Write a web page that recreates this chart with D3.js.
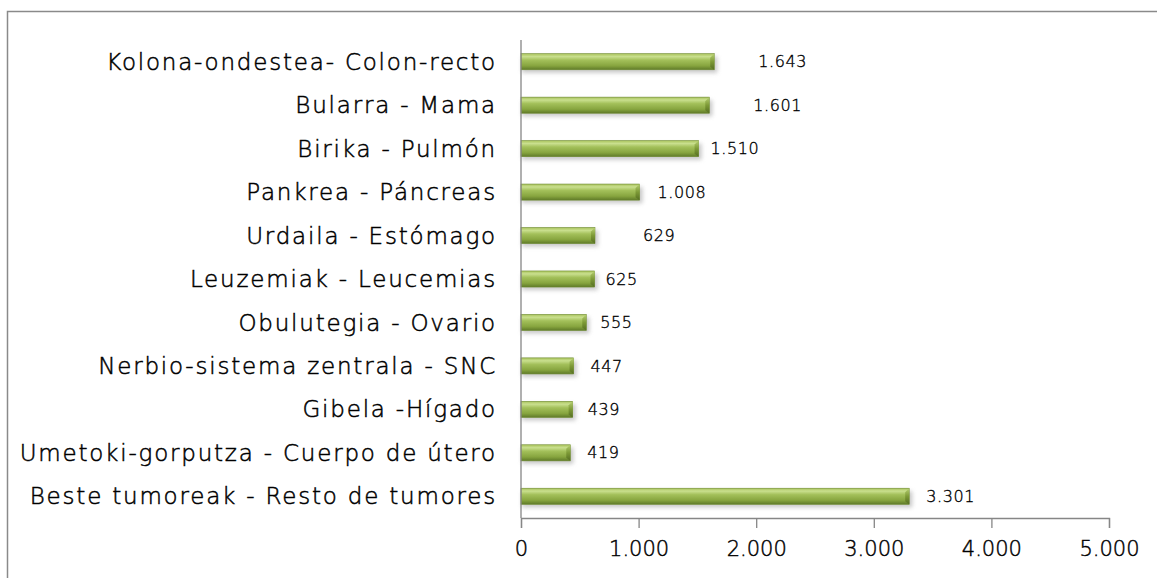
<!DOCTYPE html>
<html>
<head>
<meta charset="utf-8">
<script src="https://cdn.jsdelivr.net/npm/d3@7"></script>
<style>
  html, body { margin: 0; padding: 0; background: #fff; overflow: hidden; }
  svg { display: block; }
  svg text { font-family: "DejaVu Sans", sans-serif; }
</style>
</head>
<body>
<div id="canvas"></div>
<script>
// chart data, top to bottom as in the picture
var categories = [
  'Kolona-ondestea- Colon-recto',
  'Bularra - Mama',
  'Birika - Pulmón',
  'Pankrea - Páncreas',
  'Urdaila - Estómago',
  'Leuzemiak - Leucemias',
  'Obulutegia - Ovario',
  'Nerbio-sistema zentrala - SNC',
  'Gibela -Hígado',
  'Umetoki-gorputza - Cuerpo de útero',
  'Beste tumoreak - Resto de tumores'
];
var values = [1643, 1601, 1510, 1008, 629, 625, 555, 447, 439, 419, 3301];
var xTicks = [0, 1000, 2000, 3000, 4000, 5000];

// layout: gap between bar end and its value label (labels were hand placed)
var labelGap = [44, 44, 12, 18, 48, 11, 14, 17, 15, 17, 17];

var width = 1157, height = 578;
var margin = { left: 521, top: 40, right: 48, bottom: 60 };
var innerWidth = width - margin.left - margin.right;
var innerHeight = height - margin.top - margin.bottom;

var locale = d3.formatLocale({ decimal: ',', thousands: '.', grouping: [3], currency: ['', ''] });
var fmt = locale.format(',d');

var x = d3.scaleLinear().domain([0, 5000]).range([0, innerWidth]);
var y = d3.scaleBand().domain(categories).range([0, innerHeight]).paddingInner(0.63).paddingOuter(0.315);

var svg = d3.select('#canvas').append('svg')
  .attr('width', width)
  .attr('height', height);

// outer chart frame (only top and left edges are inside the picture)
svg.append('path')
  .attr('d', 'M7.5,' + height + 'V11.5H' + width)
  .attr('fill', 'none')
  .attr('stroke', '#8a8a8a')
  .attr('stroke-width', 1.5);

var defs = svg.append('defs');
var grad = defs.append('linearGradient')
  .attr('id', 'barGrad').attr('x1', 0).attr('y1', 0).attr('x2', 0).attr('y2', 1);
grad.append('stop').attr('offset', '0%').attr('stop-color', '#a9c35c');
grad.append('stop').attr('offset', '18%').attr('stop-color', '#c9df8e');
grad.append('stop').attr('offset', '40%').attr('stop-color', '#a3c05a');
grad.append('stop').attr('offset', '75%').attr('stop-color', '#87a53f');
grad.append('stop').attr('offset', '100%').attr('stop-color', '#5f7a28');

var endGrad = defs.append('linearGradient')
  .attr('id', 'endGrad').attr('x1', 0).attr('y1', 0).attr('x2', 0).attr('y2', 1);
endGrad.append('stop').attr('offset', '0%').attr('stop-color', '#b6cf72');
endGrad.append('stop').attr('offset', '50%').attr('stop-color', '#7d9a36');
endGrad.append('stop').attr('offset', '100%').attr('stop-color', '#556d22');

var shadow = defs.append('filter').attr('id', 'shadow')
  .attr('x', '-10%').attr('y', '-50%').attr('width', '120%').attr('height', '250%');
shadow.append('feGaussianBlur').attr('stdDeviation', 2);

var g = svg.append('g')
  .attr('transform', 'translate(' + margin.left + ',' + margin.top + ')');

var bh = y.bandwidth();

// soft shadow under each bar
g.selectAll('rect.shadow')
  .data(values)
  .enter()
  .append('rect')
  .attr('class', 'shadow')
  .attr('x', 1)
  .attr('y', (d, i) => y(categories[i]) + 3)
  .attr('width', d => x(d) + 2)
  .attr('height', bh)
  .attr('fill', '#9a9a9a')
  .attr('opacity', 0.55)
  .attr('filter', 'url(#shadow)');

// bar body
g.selectAll('rect.bar')
  .data(values)
  .enter()
  .append('rect')
  .attr('class', 'bar')
  .attr('x', 0)
  .attr('y', (d, i) => y(categories[i]))
  .attr('width', d => x(d))
  .attr('height', bh)
  .attr('fill', 'url(#barGrad)')
  .attr('stroke', '#6e8b30')
  .attr('stroke-width', 0.6);

// bevelled right end
g.selectAll('path.bevel')
  .data(values)
  .enter()
  .append('path')
  .attr('class', 'bevel')
  .attr('d', function (d, i) {
    var x1 = x(d), y0 = y(categories[i]), b = 4;
    return 'M' + (x1 - b) + ',' + (y0 + b) + 'L' + x1 + ',' + y0 + 'L' + x1 + ',' + (y0 + bh) +
      'L' + (x1 - b) + ',' + (y0 + bh - 3) + 'Z';
  })
  .attr('fill', 'url(#endGrad)');

// thin geometric look: light face thickened a little with a stroke
function thinText(sel, sw) {
  sel.style('font-weight', 300)
    .attr('fill', '#000')
    .attr('stroke', '#000')
    .attr('stroke-width', sw);
}

// value labels
g.selectAll('text.value')
  .data(values)
  .enter()
  .append('text')
  .attr('class', 'value')
  .attr('x', (d, i) => x(d) + labelGap[i])
  .attr('y', (d, i) => y(categories[i]) + bh / 2)
  .attr('dy', '0.35em')
  .style('font-size', '16px')
  .style('letter-spacing', '0.6px')
  .text(d => fmt(d))
  .call(thinText, 0.35);

// category labels
g.selectAll('text.cat')
  .data(categories)
  .enter()
  .append('text')
  .attr('class', 'cat')
  .attr('x', -24)
  .attr('y', d => y(d) + bh / 2)
  .attr('dy', '0.35em')
  .attr('text-anchor', 'end')
  .style('font-size', '23px')
  .style('letter-spacing', '1.8px')
  .text(d => d)
  .call(thinText, 0.5);

// y axis line
g.append('line')
  .attr('x1', 0).attr('x2', 0)
  .attr('y1', 0).attr('y2', innerHeight)
  .attr('stroke', '#868686').attr('stroke-width', 1.3);

// x axis
var xAxis = g.append('g')
  .attr('class', 'xAxis')
  .attr('transform', 'translate(0,' + innerHeight + ')')
  .call(d3.axisBottom(x).tickValues(xTicks).tickSize(10).tickPadding(13).tickFormat(fmt));
xAxis.select('.domain').attr('stroke', '#868686').attr('stroke-width', 1.3);
xAxis.selectAll('line').attr('stroke', '#868686').attr('stroke-width', 1.3);
xAxis.selectAll('text')
  .style('font-size', '21px')
  .style('font-family', '"DejaVu Sans", sans-serif')
  .call(thinText, 0.45);
</script>
</body>
</html>
